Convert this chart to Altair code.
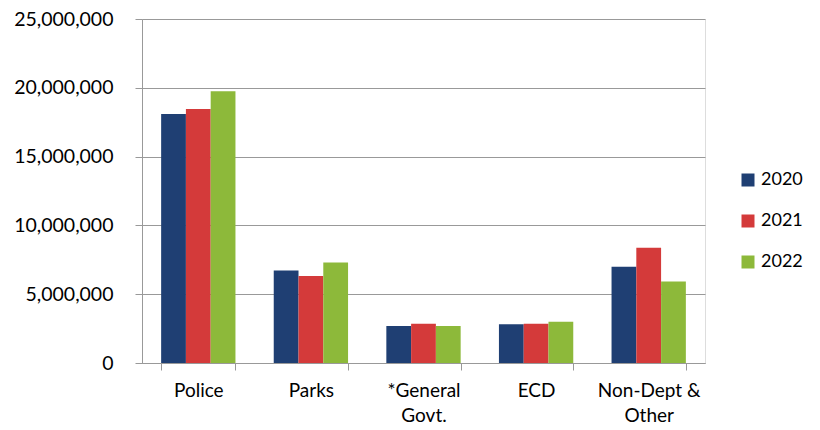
import altair as alt
import pandas as pd

categories = ["Police", "Parks", "*General Govt.", "ECD", "Non-Dept & Other"]
years = ["2020", "2021", "2022"]
v2020 = [18100000, 6720000, 2690000, 2820000, 7000000]
v2021 = [18460000, 6330000, 2860000, 2860000, 8370000]
v2022 = [19750000, 7300000, 2690000, 3000000, 5920000]
colors = ["#1F3F73", "#D43A3A", "#8DB93A"]

rows = []
for y, vals in zip(years, [v2020, v2021, v2022]):
    for c, v in zip(categories, vals):
        rows.append({"category": c, "year": y, "value": v})
df = pd.DataFrame(rows)

FONT = "Lato"
label_expr = ("datum.label == '*General Govt.' ? ['*General', 'Govt.'] : "
              "datum.label == 'Non-Dept & Other' ? ['Non-Dept &', 'Other'] : datum.label")

chart = alt.Chart(df).mark_bar(stroke=None).encode(
    x=alt.X("category:N", sort=categories, title=None,
            scale=alt.Scale(paddingInner=0.34, paddingOuter=0.17),
            axis=alt.Axis(labelAngle=0, labelExpr=label_expr, tickBand="extent",
                          labelFontSize=19, labelFont=FONT, labelColor="#000",
                          labelLineHeight=25, labelPadding=11, tickSize=7,
                          domainColor="#999", tickColor="#999", labelBaseline="top")),
    xOffset=alt.XOffset("year:N", sort=years),
    y=alt.Y("value:Q", title=None,
            scale=alt.Scale(domain=[0, 25000000], nice=False),
            axis=alt.Axis(values=[0, 5000000, 10000000, 15000000, 20000000, 25000000],
                          format=",d", labelFontSize=19.5, labelFont=FONT, labelColor="#000",
                          labelPadding=22, tickSize=7, domainColor="#999", tickColor="#999",
                          gridColor="#999", gridWidth=1.2)),
    color=alt.Color("year:N", sort=years,
                    scale=alt.Scale(domain=years, range=colors),
                    legend=alt.Legend(title=None, orient="none", legendX=597, legendY=152,
                                      symbolType="square", symbolSize=169,
                                      symbolStrokeWidth=0, labelFontSize=18,
                                      labelFont=FONT, labelColor="#000",
                                      rowPadding=23, labelOffset=4)),
).properties(
    width=563, height=344,
    autosize=alt.AutoSizeParams(type="none"),
    padding={"left": 134, "top": 11, "right": 107, "bottom": 66},
).configure_view(stroke=None).configure(background="white")

chart.save("out.html", embed_options={"renderer": "svg", "actions": False})
